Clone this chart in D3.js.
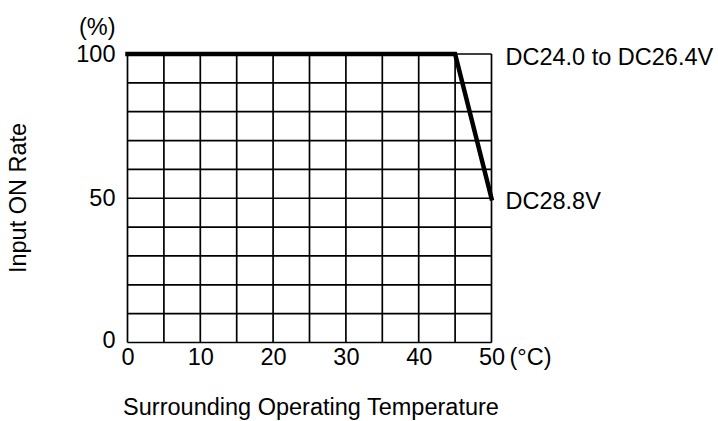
<!DOCTYPE html>
<meta charset="utf-8">
<style>
    body { margin: 0; background: #fff; }
    svg text { font-family: "Liberation Sans", Arial, sans-serif; font-size: 23.5px; fill: #000; }
</style>
<body>
<script src="https://cdn.jsdelivr.net/npm/d3@7"></script>
<script>
    /* data */
    var temps = [0, 45, 50];          // surrounding temperature (°C)
    var rates = [100, 100, 50];       // input ON rate (%)
    var xTicks = [0, 10, 20, 30, 40, 50];
    var yTicks = [0, 50, 100];
    var seriesLabels = ["DC24.0 to DC26.4V", "DC28.8V"];
    var labelRates = [100, 50];

    var w = 718, h = 421;
    var padLeft = 127.5, padRight = 491.5, padTop = 54, padBottom = 342.5;

    var svg = d3.select("body").append("svg")
        .attr("width", w)
        .attr("height", h);

    var xScale = d3.scaleLinear().domain([0, 50]).range([padLeft, padRight]);
    var yScale = d3.scaleLinear().domain([0, 100]).range([padBottom, padTop]);

    // grid, every 5 °C and every 10 %
    var grid = svg.append("g")
        .attr("stroke", "#000")
        .attr("stroke-width", 1.7);

    grid.selectAll(".vx")
        .data(xScale.ticks(10))
        .enter().append("line")
        .attr("x1", function (d) { return xScale(d); })
        .attr("x2", function (d) { return xScale(d); })
        .attr("y1", yScale(0))
        .attr("y2", yScale(100));

    grid.selectAll(".hy")
        .data(yScale.ticks(10))
        .enter().append("line")
        .attr("x1", xScale(0))
        .attr("x2", xScale(50))
        .attr("y1", function (d) { return yScale(d); })
        .attr("y2", function (d) { return yScale(d); });

    // the derating line
    var line = d3.line()
        .x(function (d, i) { return xScale(temps[i]); })
        .y(function (d) { return yScale(d); });

    svg.append("path")
        .attr("d", line(rates))
        .attr("fill", "none")
        .attr("stroke", "#000")
        .attr("stroke-width", 4.5)
        .attr("stroke-linecap", "square")
        .attr("stroke-linejoin", "miter");

    // axes, only labels
    var xAxis = d3.axisBottom(xScale)
        .tickValues(xTicks)
        .tickSize(0)
        .tickPadding(6);

    var gx = svg.append("g")
        .attr("transform", "translate(0," + padBottom + ")")
        .call(xAxis);

    var yAxis = d3.axisLeft(yScale)
        .tickValues(yTicks)
        .tickSize(0)
        .tickPadding(12);

    var gy = svg.append("g")
        .attr("transform", "translate(" + padLeft + ",0)")
        .call(yAxis);

    [gx, gy].forEach(function (g) {
        g.select(".domain").remove();
        g.selectAll("text")
            .attr("font-family", null)
            .attr("font-size", null)
            .style("font-family", "'Liberation Sans', Arial, sans-serif")
            .style("font-size", "23.5px")
            .attr("fill", "#000");
    });
    gy.selectAll(".tick")
        .filter(function (d) { return d === 0; })
        .select("text")
        .attr("dy", "0.2em");

    // units
    svg.append("text")
        .attr("x", xScale(50) + 18)
        .attr("y", padBottom + 6)
        .attr("dy", "0.71em")
        .text("(°C)");

    svg.append("text")
        .attr("x", padLeft - 12)
        .attr("y", 27)
        .attr("dy", "0.35em")
        .attr("text-anchor", "end")
        .text("(%)");

    // series labels on the right
    svg.selectAll(".slabel")
        .data(seriesLabels)
        .enter().append("text")
        .attr("x", xScale(50) + 14)
        .attr("y", function (d, i) { return yScale(labelRates[i]) + 3; })
        .attr("dy", "0.35em")
        .text(function (d) { return d; });

    // axis titles
    svg.append("text")
        .attr("x", 311)
        .attr("y", 415)
        .attr("text-anchor", "middle")
        .text("Surrounding Operating Temperature");

    svg.append("text")
        .attr("transform", "translate(26,198) rotate(-90)")
        .attr("text-anchor", "middle")
        .text("Input ON Rate");
</script>
</body>
